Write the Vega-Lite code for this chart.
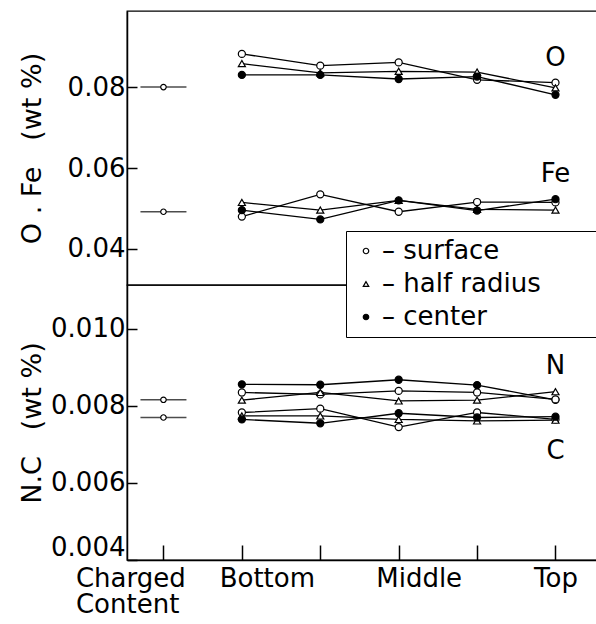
{
  "$schema": "https://vega.github.io/schema/vega-lite/v6.json",
  "padding": {"left": 17, "top": 10, "right": 0, "bottom": 5},
  "background": "white",
  "spacing": 0,
  "bounds": "flush",
  "config": {
    "font": "DejaVu Sans",
    "view": {"stroke": "black", "strokeWidth": 1.3},
    "axis": {"labelFont": "DejaVu Sans", "labelFontSize": 26, "labelColor": "black", "titleFont": "DejaVu Sans", "titleFontSize": 27, "titleFontWeight": "normal", "titleColor": "black", "domainColor": "black", "tickColor": "black", "grid": false, "domainWidth": 1.5, "tickWidth": 1.5}
  },
  "datasets": {
    "OFe": [
      {"element": "O", "series": "surface", "pos": 1, "value": 0.0882},
      {"element": "O", "series": "surface", "pos": 2, "value": 0.0853},
      {"element": "O", "series": "surface", "pos": 3, "value": 0.0861},
      {"element": "O", "series": "surface", "pos": 4, "value": 0.0818},
      {"element": "O", "series": "surface", "pos": 5, "value": 0.0811},
      {"element": "O", "series": "half radius", "pos": 1, "value": 0.0858},
      {"element": "O", "series": "half radius", "pos": 2, "value": 0.0835},
      {"element": "O", "series": "half radius", "pos": 3, "value": 0.0839},
      {"element": "O", "series": "half radius", "pos": 4, "value": 0.0837},
      {"element": "O", "series": "half radius", "pos": 5, "value": 0.0798},
      {"element": "O", "series": "center", "pos": 1, "value": 0.0830},
      {"element": "O", "series": "center", "pos": 2, "value": 0.0830},
      {"element": "O", "series": "center", "pos": 3, "value": 0.0820},
      {"element": "O", "series": "center", "pos": 4, "value": 0.0826},
      {"element": "O", "series": "center", "pos": 5, "value": 0.0781},
      {"element": "Fe", "series": "surface", "pos": 1, "value": 0.0480},
      {"element": "Fe", "series": "surface", "pos": 2, "value": 0.0535},
      {"element": "Fe", "series": "surface", "pos": 3, "value": 0.0492},
      {"element": "Fe", "series": "surface", "pos": 4, "value": 0.0516},
      {"element": "Fe", "series": "surface", "pos": 5, "value": 0.0515},
      {"element": "Fe", "series": "half radius", "pos": 1, "value": 0.0515},
      {"element": "Fe", "series": "half radius", "pos": 2, "value": 0.0496},
      {"element": "Fe", "series": "half radius", "pos": 3, "value": 0.0520},
      {"element": "Fe", "series": "half radius", "pos": 4, "value": 0.0498},
      {"element": "Fe", "series": "half radius", "pos": 5, "value": 0.0496},
      {"element": "Fe", "series": "center", "pos": 1, "value": 0.0496},
      {"element": "Fe", "series": "center", "pos": 2, "value": 0.0473},
      {"element": "Fe", "series": "center", "pos": 3, "value": 0.0520},
      {"element": "Fe", "series": "center", "pos": 4, "value": 0.0495},
      {"element": "Fe", "series": "center", "pos": 5, "value": 0.0523}
    ],
    "NC": [
      {"element": "N", "series": "center", "pos": 1, "value": 0.00856},
      {"element": "N", "series": "center", "pos": 2, "value": 0.00855},
      {"element": "N", "series": "center", "pos": 3, "value": 0.00868},
      {"element": "N", "series": "center", "pos": 4, "value": 0.00854},
      {"element": "N", "series": "center", "pos": 5, "value": 0.00816},
      {"element": "N", "series": "surface", "pos": 1, "value": 0.00835},
      {"element": "N", "series": "surface", "pos": 2, "value": 0.00830},
      {"element": "N", "series": "surface", "pos": 3, "value": 0.00839},
      {"element": "N", "series": "surface", "pos": 4, "value": 0.00835},
      {"element": "N", "series": "surface", "pos": 5, "value": 0.00817},
      {"element": "N", "series": "half radius", "pos": 1, "value": 0.00815},
      {"element": "N", "series": "half radius", "pos": 2, "value": 0.00835},
      {"element": "N", "series": "half radius", "pos": 3, "value": 0.00813},
      {"element": "N", "series": "half radius", "pos": 4, "value": 0.00815},
      {"element": "N", "series": "half radius", "pos": 5, "value": 0.00837},
      {"element": "C", "series": "surface", "pos": 1, "value": 0.00783},
      {"element": "C", "series": "surface", "pos": 2, "value": 0.00793},
      {"element": "C", "series": "surface", "pos": 3, "value": 0.00745},
      {"element": "C", "series": "surface", "pos": 4, "value": 0.00783},
      {"element": "C", "series": "surface", "pos": 5, "value": 0.00765},
      {"element": "C", "series": "half radius", "pos": 1, "value": 0.00774},
      {"element": "C", "series": "half radius", "pos": 2, "value": 0.00774},
      {"element": "C", "series": "half radius", "pos": 3, "value": 0.00765},
      {"element": "C", "series": "half radius", "pos": 4, "value": 0.00761},
      {"element": "C", "series": "half radius", "pos": 5, "value": 0.00763},
      {"element": "C", "series": "center", "pos": 1, "value": 0.00765},
      {"element": "C", "series": "center", "pos": 2, "value": 0.00755},
      {"element": "C", "series": "center", "pos": 3, "value": 0.00781},
      {"element": "C", "series": "center", "pos": 4, "value": 0.00770},
      {"element": "C", "series": "center", "pos": 5, "value": 0.00772}
    ],
    "chargedOFe": [
      {"element": "O", "pos": 0, "value": 0.0800},
      {"element": "Fe", "pos": 0, "value": 0.0492}
    ],
    "chargedNC": [
      {"element": "N", "pos": 0, "value": 0.00816},
      {"element": "C", "pos": 0, "value": 0.00770}
    ],
    "labelsOFe": [
      {"element": "O", "pos": 5, "value": 0.0872},
      {"element": "Fe", "pos": 5, "value": 0.0586}
    ],
    "labelsNC": [
      {"element": "N", "pos": 5, "value": 0.00903},
      {"element": "C", "pos": 5, "value": 0.00682}
    ]
  },
  "vconcat": [
    {
      "width": 472,
      "height": 274,
      "encoding": {
        "x": {"field": "pos", "type": "quantitative", "scale": {"domain": [-0.465, 5.555], "nice": false, "zero": false}, "axis": null},
        "y": {"field": "value", "type": "quantitative", "scale": {"domain": [0.0311, 0.0988], "nice": false, "zero": false},
          "axis": {"values": [0.04, 0.06, 0.08], "format": ".2f", "tickSize": -10, "labelPadding": 12, "title": "O\u00a0.\u00a0Fe\u00a0\u00a0\u00a0(wt\u00a0%)", "titleX": -95, "titleBaseline": "middle"}}
      },
      "layer": [
        {"data": {"name": "OFe"}, "mark": {"type": "line", "color": "black", "strokeWidth": 1.3},
          "encoding": {"detail": [{"field": "element"}, {"field": "series"}]}},
        {"data": {"name": "OFe"}, "mark": {"type": "point", "filled": true, "strokeWidth": 1.2, "size": 50, "opacity": 1},
          "encoding": {
            "shape": {"field": "series", "type": "nominal", "scale": {"domain": ["surface", "half radius", "center"], "range": ["circle", "triangle-up", "circle"]},
              "legend": {"title": null, "orient": "none", "legendX": 219, "legendY": 220, "labelFont": "DejaVu Sans", "labelFontSize": 26, "labelColor": "black", "labelLimit": 600, "symbolSize": 30, "symbolStrokeWidth": 1.2, "strokeColor": "black", "fillColor": "white", "padding": 7, "labelOffset": 3, "rowPadding": 7, "labelExpr": "'– ' + datum.label + '\u2800\u2800\u2800\u2800\u2800\u2800'"}},
            "fill": {"field": "series", "type": "nominal", "scale": {"domain": ["surface", "half radius", "center"], "range": ["white", "white", "black"]},
              "legend": {"title": null, "orient": "none", "legendX": 219, "legendY": 220, "labelFont": "DejaVu Sans", "labelFontSize": 26, "labelColor": "black", "labelLimit": 600, "symbolSize": 30, "symbolStrokeWidth": 1.2, "strokeColor": "black", "fillColor": "white", "padding": 7, "labelOffset": 3, "rowPadding": 7, "labelExpr": "'– ' + datum.label + '\u2800\u2800\u2800\u2800\u2800\u2800'"}},
            "stroke": {"field": "series", "type": "nominal", "scale": {"domain": ["surface", "half radius", "center"], "range": ["black", "black", "black"]},
              "legend": {"title": null, "orient": "none", "legendX": 219, "legendY": 220, "labelFont": "DejaVu Sans", "labelFontSize": 26, "labelColor": "black", "labelLimit": 600, "symbolSize": 30, "symbolStrokeWidth": 1.2, "strokeColor": "black", "fillColor": "white", "padding": 7, "labelOffset": 3, "rowPadding": 7, "labelExpr": "'– ' + datum.label + '\u2800\u2800\u2800\u2800\u2800\u2800'"}}
          }},
        {"data": {"name": "chargedOFe"}, "mark": {"type": "tick", "orient": "horizontal", "size": 46, "thickness": 1.5, "color": "black"}, "encoding": {}},
        {"data": {"name": "chargedOFe"}, "mark": {"type": "point", "shape": "circle", "filled": true, "fill": "white", "stroke": "black", "strokeWidth": 1.2, "size": 30, "opacity": 1}, "encoding": {}},
        {"data": {"name": "labelsOFe"}, "mark": {"type": "text", "fontSize": 26, "font": "DejaVu Sans", "color": "black"}, "encoding": {"text": {"field": "element"}}}
      ]
    },
    {
      "width": 472,
      "height": 275,
      "encoding": {
        "x": {"field": "pos", "type": "quantitative", "scale": {"domain": [-0.465, 5.555], "nice": false, "zero": false},
          "axis": {"values": [0, 1, 2, 3, 4, 5], "title": null, "tickSize": -15, "labelPadding": 20, "labelBaseline": "top", "labelLineHeight": 26, "labelFlush": false, "labelOverlap": false,
            "labelExpr": "datum.value == 0 ? ['Charged', 'Content'] : datum.value == 1 ? 'Bottom' : datum.value == 3 ? 'Middle' : datum.value == 5 ? 'Top' : ''",
            "labelAlign": {"expr": "datum.value == 0 ? 'left' : 'center'"},
            "labelOffset": {"expr": "datum.value == 0 ? -88 : datum.value == 1 ? 25 : datum.value == 3 ? 20 : 0"}}},
        "y": {"field": "value", "type": "quantitative", "scale": {"domain": [0.004, 0.01114], "nice": false, "zero": false},
          "axis": {"values": [0.004, 0.006, 0.008, 0.01], "format": ".3f", "tickSize": -10, "labelPadding": 12, "labelOffset": {"expr": "datum.value < 0.005 ? -13 : 0"}, "title": "N.C\u00a0\u00a0\u00a0(wt\u00a0%)", "titleX": -95, "titleBaseline": "middle"}}
      },
      "layer": [
        {"data": {"name": "NC"}, "mark": {"type": "line", "color": "black", "strokeWidth": 1.3},
          "encoding": {"detail": [{"field": "element"}, {"field": "series"}]}},
        {"data": {"name": "NC"}, "mark": {"type": "point", "filled": true, "strokeWidth": 1.2, "size": 50, "opacity": 1},
          "encoding": {
            "shape": {"field": "series", "type": "nominal", "scale": {"domain": ["surface", "half radius", "center"], "range": ["circle", "triangle-up", "circle"]},
              "legend": {"title": null, "orient": "none", "legendX": 219, "legendY": 220, "labelFont": "DejaVu Sans", "labelFontSize": 26, "labelColor": "black", "labelLimit": 600, "symbolSize": 30, "symbolStrokeWidth": 1.2, "strokeColor": "black", "fillColor": "white", "padding": 7, "labelOffset": 3, "rowPadding": 7, "labelExpr": "'– ' + datum.label + '\u2800\u2800\u2800\u2800\u2800\u2800'"}},
            "fill": {"field": "series", "type": "nominal", "scale": {"domain": ["surface", "half radius", "center"], "range": ["white", "white", "black"]},
              "legend": {"title": null, "orient": "none", "legendX": 219, "legendY": 220, "labelFont": "DejaVu Sans", "labelFontSize": 26, "labelColor": "black", "labelLimit": 600, "symbolSize": 30, "symbolStrokeWidth": 1.2, "strokeColor": "black", "fillColor": "white", "padding": 7, "labelOffset": 3, "rowPadding": 7, "labelExpr": "'– ' + datum.label + '\u2800\u2800\u2800\u2800\u2800\u2800'"}},
            "stroke": {"field": "series", "type": "nominal", "scale": {"domain": ["surface", "half radius", "center"], "range": ["black", "black", "black"]},
              "legend": {"title": null, "orient": "none", "legendX": 219, "legendY": 220, "labelFont": "DejaVu Sans", "labelFontSize": 26, "labelColor": "black", "labelLimit": 600, "symbolSize": 30, "symbolStrokeWidth": 1.2, "strokeColor": "black", "fillColor": "white", "padding": 7, "labelOffset": 3, "rowPadding": 7, "labelExpr": "'– ' + datum.label + '\u2800\u2800\u2800\u2800\u2800\u2800'"}}
          }},
        {"data": {"name": "chargedNC"}, "mark": {"type": "tick", "orient": "horizontal", "size": 46, "thickness": 1.5, "color": "black"}, "encoding": {}},
        {"data": {"name": "chargedNC"}, "mark": {"type": "point", "shape": "circle", "filled": true, "fill": "white", "stroke": "black", "strokeWidth": 1.2, "size": 30, "opacity": 1}, "encoding": {}},
        {"data": {"name": "labelsNC"}, "mark": {"type": "text", "fontSize": 26, "font": "DejaVu Sans", "color": "black"}, "encoding": {"text": {"field": "element"}}}
      ]
    }
  ]
}
